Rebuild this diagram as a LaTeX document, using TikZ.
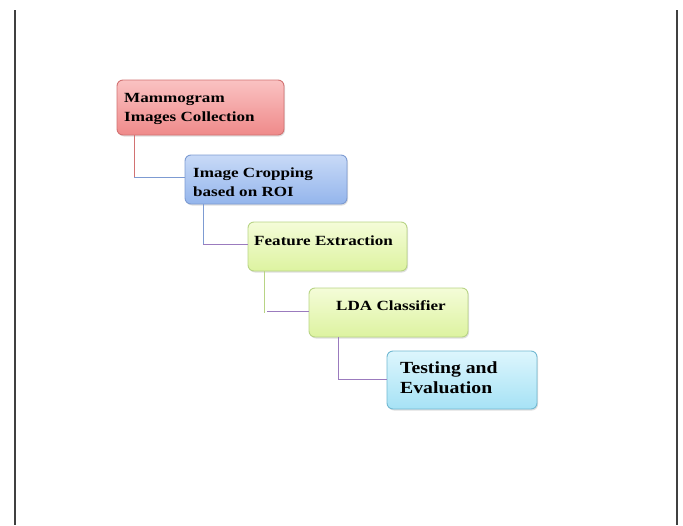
\documentclass[tikz,border=0pt]{standalone}
\usepackage{fontspec}
\setmainfont{Liberation Serif}
\newfontfamily\wideserif[FakeStretch=1.22]{Liberation Serif}
\newfontfamily\wideserifB[FakeStretch=1.16]{Liberation Serif}
\usetikzlibrary{shadows}
\definecolor{redA}{HTML}{FAC2C2}
\definecolor{redB}{HTML}{EF8A8A}
\definecolor{redL}{HTML}{D27272}
\definecolor{bluA}{HTML}{C8DAF7}
\definecolor{bluB}{HTML}{94B5EC}
\definecolor{bluL}{HTML}{7D9BD2}
\definecolor{grnA}{HTML}{F4FCD8}
\definecolor{grnB}{HTML}{DDF3A0}
\definecolor{grnL}{HTML}{B8D485}
\definecolor{cyaA}{HTML}{DDF6FD}
\definecolor{cyaB}{HTML}{A6E2F5}
\definecolor{cyaL}{HTML}{72B9D2}
\definecolor{purL}{HTML}{9B7BBE}
\definecolor{frameL}{HTML}{404040}
\begin{document}
\begin{tikzpicture}[x=1pt,y=-1pt,
  boxbase/.style={rounded corners=6pt, line width=0.9pt, drop shadow={shadow xshift=1pt,shadow yshift=-1.5pt,opacity=0.25}},
  lbl/.style={anchor=base west, inner sep=0pt, font=\wideserif\bfseries\fontsize{14}{19}\selectfont, align=left},
  biglbl/.style={lbl, font=\wideserifB\bfseries\fontsize{17}{20}\selectfont},
  conn/.style={line width=0.9pt}]
\useasboundingbox (0,0) rectangle (683,525);
\draw[frameL, line width=1.3pt] (15,10) -- (15,525);
\draw[frameL, line width=1.3pt] (677,10) -- (677,525);
% boxes
\path[boxbase, draw=redL, top color=redA, bottom color=redB] (117,80) rectangle (284,135);
\path[boxbase, draw=bluL, top color=bluA, bottom color=bluB] (185,155) rectangle (347,204);
\path[boxbase, draw=grnL, top color=grnA, bottom color=grnB] (248,222) rectangle (407,271);
\path[boxbase, draw=grnL, top color=grnA, bottom color=grnB] (309,288) rectangle (468,337);
\path[boxbase, draw=cyaL, top color=cyaA, bottom color=cyaB] (387,351) rectangle (537,409);
% labels
\node[lbl] (b1) at (124,121.5) {Mammogram\\Images Collection};
\node[lbl] (b2) at (193,196) {Image Cropping\\based on ROI};
\node[lbl] (b3) at (254,245) {Feature Extraction};
\node[lbl] (b4) at (336,310) {LDA Classifier};
\node[biglbl] (b5) at (400,393) {Testing and\\Evaluation};
% connectors
\coordinate (c1) at (134,177);
\draw[conn, redL] (134,135) -- (c1);
\draw[conn, bluL] (c1) -- (185,177);
\coordinate (c2) at (203,244);
\draw[conn, bluL] (203,204) -- (c2);
\draw[conn, purL] (c2) -- (248,244);
\draw[conn, grnL] (264,271) -- (264,313);
\draw[conn, purL] (267,311) -- (309,311);
\coordinate (c4) at (338,379);
\draw[conn, purL] (338,337) -- (c4) -- (387,379);
\end{tikzpicture}
\end{document}
